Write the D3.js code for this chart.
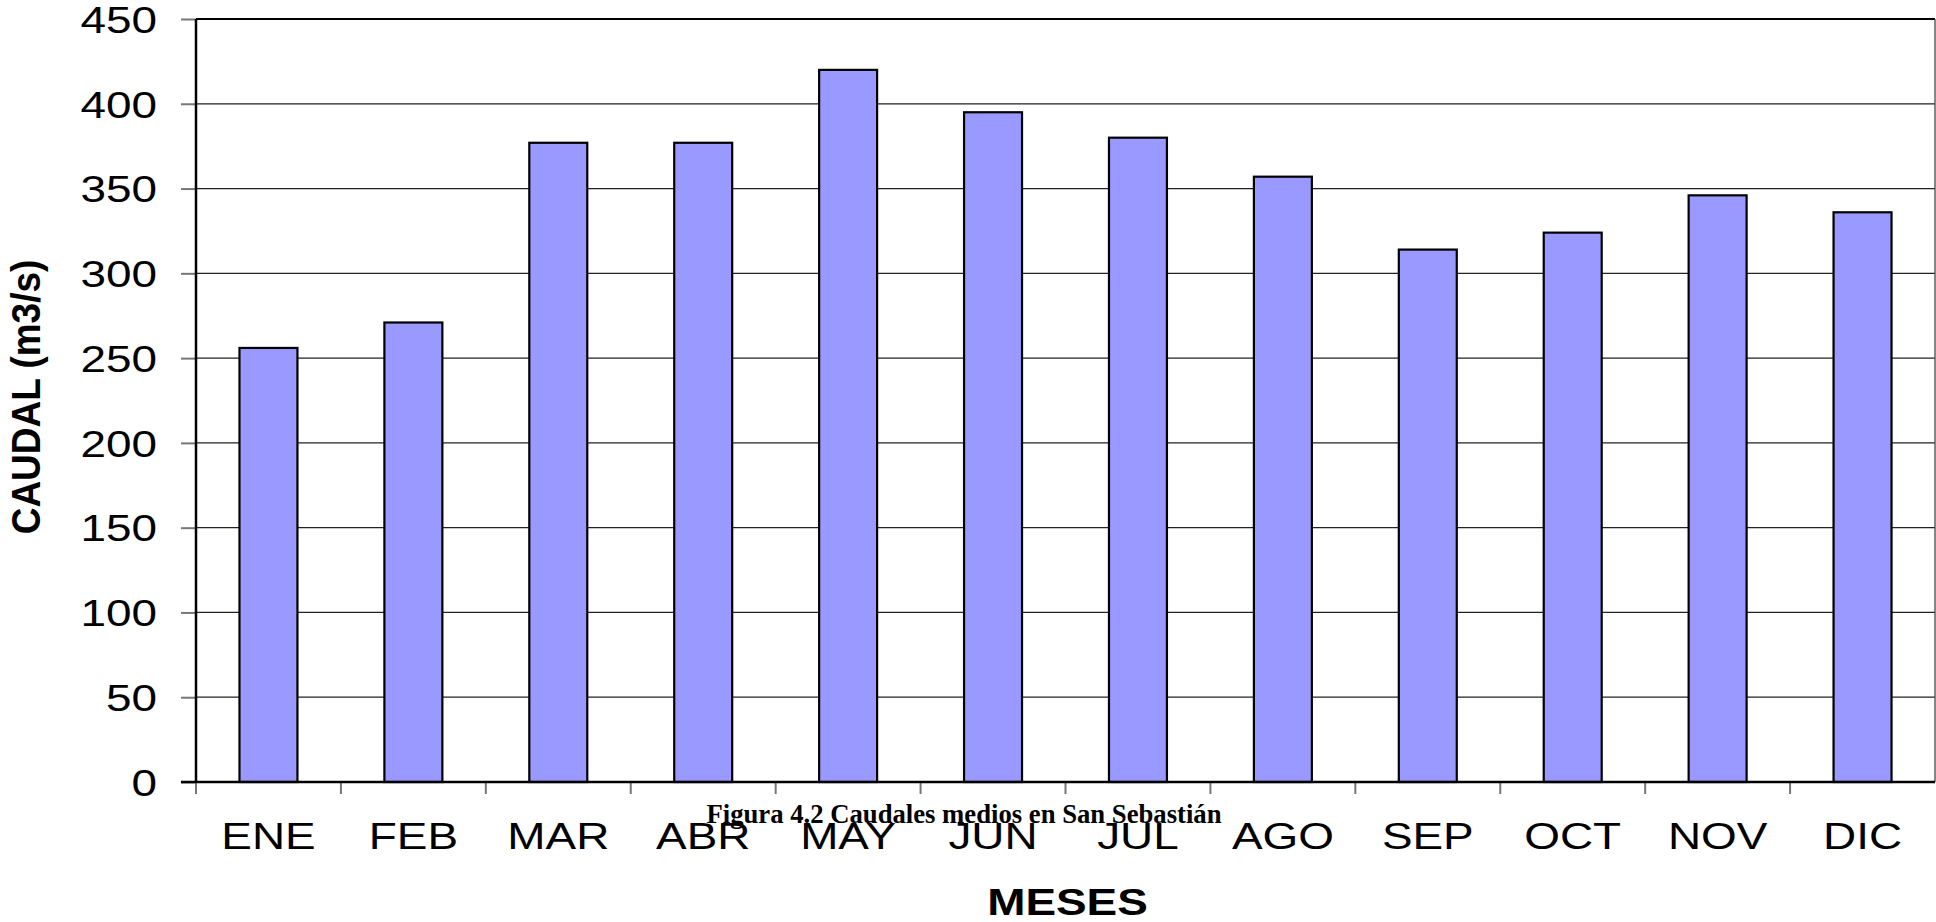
<!DOCTYPE html>
<html>
<head>
<meta charset="utf-8">
<script src="https://cdn.jsdelivr.net/npm/d3@7"></script>
<style>
  html, body { margin: 0; padding: 0; background: #fff; }
  svg { display: block; }
  text { font-family: Arial, "Liberation Sans", sans-serif; fill: #000; }
</style>
</head>
<body>
<svg id="chart" width="1936" height="922"></svg>
<script>
// Caudales medios mensuales (m3/s)
const months = ["ENE", "FEB", "MAR", "ABR", "MAY", "JUN", "JUL", "AGO", "SEP", "OCT", "NOV", "DIC"];
const flows = [256, 271, 377, 377, 420, 395, 380, 357, 314, 324, 346, 336];
const yTicks = [0, 50, 100, 150, 200, 250, 300, 350, 400, 450];

const caption = "Figura 4.2 Caudales medios en San Sebastián";
const xTitle = "MESES";
const yTitle = "CAUDAL (m3/s)";

const W = 1936, H = 922;
const margin = { top: 19, right: 1, bottom: 140, left: 196 };
const plotW = W - margin.left - margin.right;
const plotH = H - margin.top - margin.bottom;
const WIDE = 1.24; // horizontal glyph stretch of the labels

const svg = d3.select("#chart");
const g = svg.append("g").attr("transform", `translate(${margin.left},${margin.top})`);

const x = d3.scaleBand().domain(months).range([0, plotW]).paddingInner(0.6).paddingOuter(0.3);
const y = d3.scaleLinear().domain([0, 450]).range([plotH, 0]);
const step = x.step();

// widen a text element horizontally while keeping its anchor
function widen(sel, k) {
  sel.each(function () {
    const w = this.getComputedTextLength();
    d3.select(this).attr("textLength", w * k).attr("lengthAdjust", "spacingAndGlyphs");
  });
}

// horizontal gridlines
g.append("g").selectAll("line").data(yTicks.filter(t => t > 0))
  .join("line")
  .attr("x1", 0).attr("x2", plotW)
  .attr("y1", d => y(d)).attr("y2", d => y(d))
  .attr("stroke", d => d === 450 ? "#000" : "#222")
  .attr("stroke-width", d => d === 450 ? 2.2 : 1.3);

// right border
g.append("line")
  .attr("x1", plotW).attr("x2", plotW).attr("y1", 0).attr("y2", plotH)
  .attr("stroke", "#444").attr("stroke-width", 1.3);

// bars
g.append("g").selectAll("rect").data(months)
  .join("rect")
  .attr("x", (d) => x(d))
  .attr("y", (d, i) => y(flows[i]))
  .attr("width", x.bandwidth())
  .attr("height", (d, i) => y(0) - y(flows[i]))
  .attr("fill", "#9999FF")
  .attr("stroke", "#000")
  .attr("stroke-width", 2.2);

// y axis
const yAxis = g.append("g")
  .call(d3.axisLeft(y).tickValues(yTicks).tickSize(15).tickPadding(24).tickSizeOuter(0));
yAxis.select(".domain").remove();
yAxis.selectAll(".tick line").attr("stroke", "#777").attr("stroke-width", 2);
yAxis.selectAll(".tick text")
  .attr("font-size", 37)
  .attr("font-family", "Arial, 'Liberation Sans', sans-serif")
  .attr("dy", "0.36em")
  .call(widen, WIDE);
g.append("line")
  .attr("x1", 0).attr("x2", 0).attr("y1", 0).attr("y2", plotH)
  .attr("stroke", "#000").attr("stroke-width", 2.5);

// x axis: category labels
const xAxis = g.append("g").attr("transform", `translate(0,${plotH})`)
  .call(d3.axisBottom(x).tickSize(0).tickPadding(0));
xAxis.select(".domain").remove();
xAxis.selectAll(".tick text")
  .attr("font-size", 37)
  .attr("font-family", "Arial, 'Liberation Sans', sans-serif")
  .attr("y", 67).attr("dy", 0)
  .call(widen, WIDE);

// x tick marks at category boundaries
const bounds = d3.range(months.length + 1).map(i => x(months[0]) - step * x.paddingOuter() + i * step);
xAxis.append("g").selectAll("line").data(bounds.slice(0, months.length))
  .join("line")
  .attr("x1", d => d).attr("x2", d => d)
  .attr("y1", 0).attr("y2", 12)
  .attr("stroke", "#777").attr("stroke-width", 2);
g.append("line")
  .attr("x1", -15).attr("x2", plotW).attr("y1", plotH).attr("y2", plotH)
  .attr("stroke", "#000").attr("stroke-width", 2.5);

// axis titles
svg.append("text")
  .attr("x", margin.left + plotW / 2 + 2).attr("y", 915)
  .attr("text-anchor", "middle")
  .attr("font-size", 37).attr("font-weight", "bold")
  .text(xTitle)
  .call(widen, WIDE);

svg.append("text")
  .attr("transform", "translate(40,397) rotate(-90) scale(1,1.1)")
  .attr("text-anchor", "middle")
  .attr("font-size", 37).attr("font-weight", "bold")
  .text(yTitle);

// figure caption
svg.append("text")
  .attr("x", 964).attr("y", 823)
  .attr("text-anchor", "middle")
  .style("font-family", "'Liberation Serif', 'Times New Roman', serif")
  .attr("font-size", 27).attr("font-weight", "bold")
  .attr("fill", "#111")
  .text(caption)
  .attr("textLength", 515).attr("lengthAdjust", "spacingAndGlyphs");
</script>
</body>
</html>
